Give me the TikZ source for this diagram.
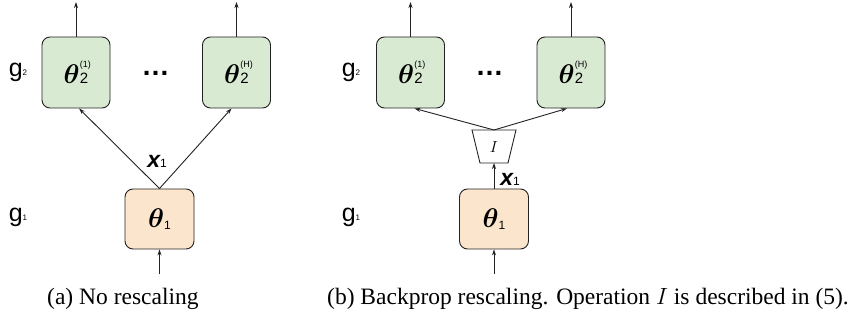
\RequirePackage{fix-cm}
\documentclass[tikz,border=0pt]{standalone}
\usepackage{fontspec}
\usepackage{amsmath,bm}
\usetikzlibrary{arrows.meta}
\newfontfamily\arialf{Liberation Sans}
\newfontfamily\timesf{Liberation Serif}
\definecolor{gfill}{HTML}{D9EAD3}
\definecolor{ofill}{HTML}{FCE5CD}
\definecolor{edge}{HTML}{222222}
\newcommand{\thetatwo}[1]{{\fontsize{27}{27}\selectfont$\bm{\theta}$}\hspace{0.3pt}\rlap{\raisebox{16pt}{\arialf\fontsize{9}{9}\selectfont(#1)}}{\arialf\fontsize{15}{15}\selectfont 2}}
\newcommand{\thetaone}{{\fontsize{27}{27}\selectfont$\bm{\theta}$}\raisebox{-2pt}{\arialf\fontsize{12}{12}\selectfont 1}}
\newcommand{\xone}{{\arialf\bfseries\itshape\fontsize{23}{23}\selectfont x}{\arialf\fontsize{12}{12}\selectfont 1}}
\newcommand{\glab}[1]{{\arialf\fontsize{25}{25}\selectfont g}\raisebox{1pt}{\arialf\fontsize{8}{8}\selectfont #1}}
\begin{document}
\begin{tikzpicture}[x=1pt,y=-1pt,
  box/.style={draw=edge,line width=0.9pt,rounded corners=8pt,inner sep=0pt},
  gbox/.style={box,fill=gfill,minimum width=68pt,minimum height=71pt},
  obox/.style={box,fill=ofill,minimum width=69pt,minimum height=60pt},
  conn/.style={draw=edge,line width=0.9pt,-{Stealth[length=6pt,width=4pt]}},
  lab/.style={inner sep=0pt},
  dotstext/.style={inner sep=0pt,font=\arialf\bfseries\fontsize{28}{28}\selectfont},
  captext/.style={inner sep=0pt,anchor=base west,font=\timesf\fontsize{23.5}{23.5}\selectfont}]
\useasboundingbox (0,0) rectangle (855,326);
% ---- panel (a)
\node[gbox] (a21) at (76,72.5) {\thetatwo{1}};
\node[gbox] (a2H) at (236.5,72.5) {\thetatwo{H}};
\node[obox] (a1) at (159.5,219) {\thetaone};
\node[dotstext] (adots) at (155.5,73) {\ldots};
\node[lab] (ag2) at (18,72) {\glab{2}};
\node[lab] (ag1) at (18,217) {\glab{1}};
\node[lab] (ax) at (157,161) {\xone};
\coordinate (aout1) at (76,2);
\coordinate (aout2) at (236.5,2);
\coordinate (ain) at (159.5,274);
\draw[conn] (a21.north) -- (aout1);
\draw[conn] (a2H.north) -- (aout2);
\draw[conn] (ain) -- (a1.south);
\draw[conn] (a1.north) -- ([xshift=3pt]a21.south);
\draw[conn] (a1.north) -- ([xshift=-5pt]a2H.south);
% ---- panel (b)
\node[gbox] (b21) at (410.5,72.5) {\thetatwo{1}};
\node[gbox] (b2H) at (571,72.5) {\thetatwo{H}};
\node[obox] (b1) at (494,219) {\thetaone};
\node[dotstext] (bdots) at (489.5,73) {\ldots};
\node[lab] (bg2) at (351,72) {\glab{2}};
\node[lab] (bg1) at (351,217) {\glab{1}};
\node[lab] (bx) at (510,179) {\xone};
\draw[draw=edge,line width=0.9pt,fill=white] (472,130) -- (516,130) -- (508,163) -- (480,163) -- cycle;
\node[lab] (bI) at (494,147) {\fontsize{16}{16}\selectfont$I$};
\coordinate (Itop) at (494,130);
\coordinate (Ibot) at (494,163);
\coordinate (bout1) at (410.5,2);
\coordinate (bout2) at (571,2);
\coordinate (bin) at (494,274);
\draw[conn] (b21.north) -- (bout1);
\draw[conn] (b2H.north) -- (bout2);
\draw[conn] (bin) -- (b1.south);
\draw[conn] (b1.north) -- (Ibot);
\draw[conn] (Itop) -- ([xshift=4pt]b21.south);
\draw[conn] (Itop) -- ([xshift=-4pt]b2H.south);
% ---- captions
\node[captext] (capa) at (47,304) {(a) No rescaling};
\node[captext] (capb) at (327,304) {(b) Backprop rescaling. Operation $I$ is described in (5).};
\end{tikzpicture}
\end{document}
